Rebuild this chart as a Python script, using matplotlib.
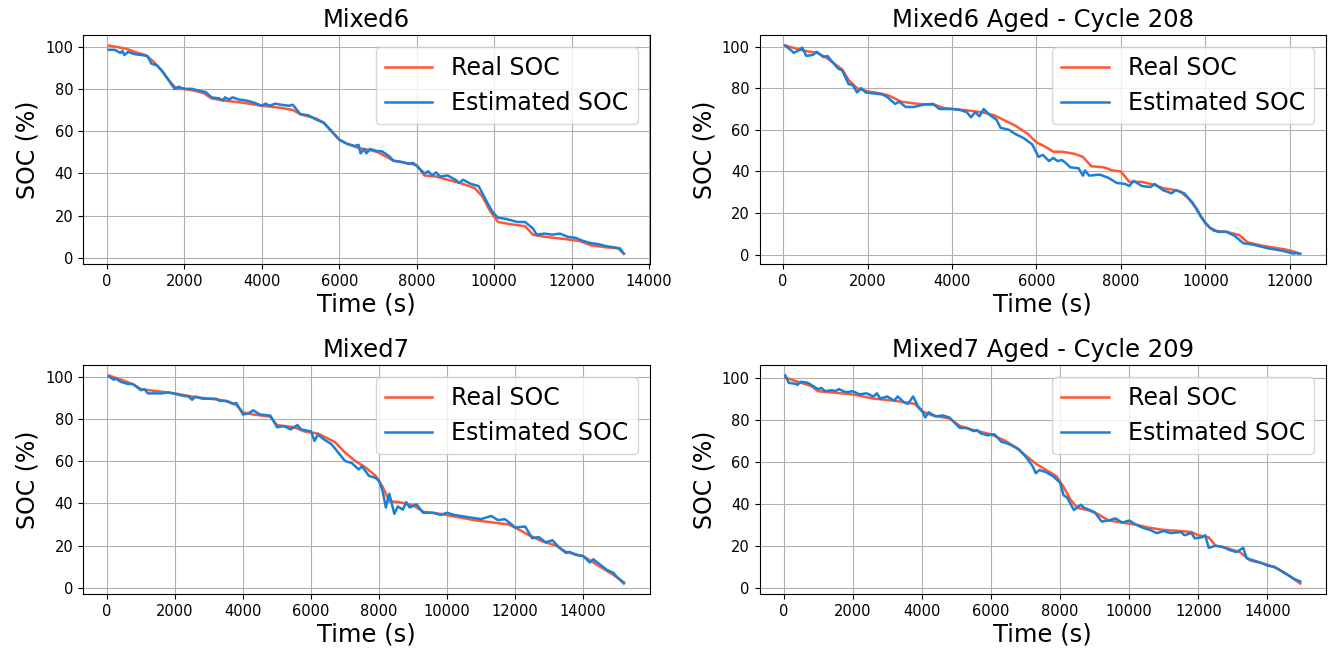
import matplotlib
matplotlib.use("Agg")
import matplotlib.pyplot as plt

# ---------------- Mixed6 ----------------
m6_real_t = [50, 500, 800, 1000, 1200, 1400, 1600, 1800, 2000, 2300, 2500, 2700, 3000, 3500, 4000,
             4500, 4800, 5000, 5400, 5600, 5800, 6000, 6200, 6500, 6800, 7000, 7200, 7400, 7700,
             8000, 8200, 8500, 8800, 9200, 9500, 9700, 9900, 10100, 10400, 10800, 11000, 11300,
             11800, 12200, 12500, 12900, 13200, 13350]
m6_real = [100.5, 99, 97, 96, 93, 89, 84, 80, 80, 79, 78, 75.5, 74.5, 73.5, 72,
           71, 70, 68, 66, 64, 60, 56, 54, 52, 51, 50, 48, 46, 45,
           44, 39, 38.5, 37, 35, 33, 29, 22, 17, 16, 15, 11, 10,
           9, 8, 6, 5, 4.5, 2]
m6_est_t = [50, 200, 350, 400, 450, 550, 700, 900, 1050, 1150, 1300, 1450, 1600, 1750, 1850, 2000,
            2200, 2400, 2550, 2700, 2900, 3000, 3050, 3150, 3250, 3400, 3600, 3800, 4000, 4100,
            4200, 4350, 4500, 4700, 4800, 5000, 5200, 5400, 5600, 5800, 6000, 6200, 6400, 6500,
            6550, 6650, 6700, 6800, 7000, 7100, 7300, 7400, 7600, 7800, 7900, 8000, 8200, 8300,
            8400, 8500, 8600, 8800, 9000, 9100, 9200, 9400, 9600, 9700, 9800, 9950, 10100, 10300,
            10500, 10600, 10800, 11000, 11100, 11300, 11500, 11700, 11900, 12100, 12300, 12500,
            12700, 12900, 13100, 13250, 13350]
m6_est = [98.5, 98.5, 97, 98, 96, 97.5, 96.5, 96, 95.5, 92, 91, 88, 84, 80, 81, 80,
          80, 79, 78.5, 76, 75.5, 74.5, 76, 75, 76, 75, 74.5, 73.5, 72, 73,
          72, 73, 72.5, 72, 72.5, 68, 67.5, 65.5, 64, 60, 56, 54, 53, 53.5,
          49.5, 51.5, 49.5, 51.5, 50.5, 50.5, 48, 46, 45.5, 44.5, 45, 43.5, 40, 41,
          39, 40.5, 38.5, 39, 37, 35.5, 37, 35, 34, 30.5, 27, 22, 19, 18.5,
          17.5, 17, 17, 14, 11, 11.5, 11, 11.5, 10, 9.5, 8, 7,
          6.5, 5.5, 5, 4.5, 2]

# ---------------- Mixed6 Aged - Cycle 208 ----------------
m6a_real_t = [50, 500, 800, 1000, 1200, 1400, 1550, 1750, 2000, 2300, 2500, 2800, 3200, 3600, 3800,
              4300, 4700, 5000, 5300, 5500, 5800, 6000, 6200, 6400, 6600, 6900, 7100, 7300, 7600,
              7800, 8000, 8200, 8500, 8800, 9000, 9300, 9400, 9600, 9800, 10000, 10200, 10500,
              10800, 11000, 11300, 11600, 11900, 12100, 12200]
m6a_real = [100.5, 98, 97, 95, 92, 89, 84, 80, 78.5, 77.5, 76.5, 73.5, 72.5, 72, 70.5,
            69.5, 68.5, 67, 64, 62, 58, 54, 52, 49.5, 49.5, 48.5, 47, 42.5, 42,
            40.5, 40, 35, 35, 33.5, 32, 31, 30.5, 27, 22, 15, 11.5, 11,
            9.5, 6, 4.5, 3.5, 2.5, 1.5, 0.5]
m6a_est_t = [50, 200, 250, 400, 450, 550, 700, 800, 950, 1050, 1150, 1300, 1400, 1550, 1650, 1750,
             1850, 1950, 2150, 2350, 2450, 2650, 2750, 2900, 3100, 3300, 3550, 3700, 4000, 4200,
             4350, 4450, 4550, 4650, 4750, 4900, 5050, 5150, 5350, 5500, 5700, 5900, 6050, 6150,
             6300, 6400, 6500, 6600, 6700, 6800, 7000, 7100, 7150, 7250, 7500, 7700, 7900, 8100,
             8200, 8300, 8500, 8700, 8800, 9000, 9200, 9300, 9500, 9700, 9900, 10100, 10300,
             10500, 10700, 10900, 11100, 11300, 11500, 11800, 12000, 12100, 12150, 12250]
m6a_est = [100.5, 98, 97, 98.5, 99.5, 95.5, 96, 97.5, 95, 95.5, 93, 89.5, 88.5, 82, 81.5, 78,
           80, 78, 77.5, 77, 76, 72.5, 73.5, 71, 71, 72, 72.5, 70, 70, 69.5,
           68.5, 66, 68.5, 66.5, 70, 67, 65, 61, 60, 58, 56, 53, 47, 48,
           45, 46.5, 45, 45.5, 44, 42, 41.5, 38, 40.5, 38, 38.5, 37, 34.5, 34,
           33, 35.5, 33, 32.5, 34, 31, 29.5, 31, 29.5, 25, 18, 13, 11,
           11, 9, 5.5, 5, 4, 3, 2, 1, 0.5, 1, 0.5]

# ---------------- Mixed7 ----------------
m7_real_t = [50, 500, 800, 1000, 1500, 2000, 2500, 3000, 3300, 3600, 3800, 4000, 4300, 4800, 5000,
             5500, 5800, 6200, 6700, 7000, 7300, 7600, 7900, 8100, 8300, 8600, 9000, 9300, 9800,
             10300, 10800, 11300, 11800, 12000, 12400, 12800, 13200, 13500, 14000, 14300, 14700,
             15000, 15200]
m7_real = [100.5, 98, 96, 94, 93, 92, 90.5, 89.5, 89, 88, 86.5, 83, 82, 81, 77,
           76, 74, 73, 69, 64, 60, 57, 53, 48, 41, 40.5, 39, 36, 35,
           33.5, 32, 31, 30, 28.5, 25, 22, 20, 17, 15, 12, 8,
           5, 2]
m7_est_t = [50, 200, 250, 400, 600, 750, 1000, 1100, 1200, 1600, 1800, 2200, 2400, 2500, 2600, 2800,
            3200, 3300, 3500, 3700, 3800, 4000, 4150, 4300, 4500, 4800, 5000, 5200, 5400, 5600,
            5700, 6000, 6100, 6200, 6400, 6600, 6800, 7000, 7200, 7400, 7500, 7700, 7900, 8000,
            8100, 8200, 8300, 8450, 8550, 8700, 8800, 8900, 9100, 9300, 9600, 9800, 10000, 10200,
            10400, 10800, 11000, 11300, 11500, 11700, 11900, 12000, 12300, 12500, 12700, 12900,
            13100, 13300, 13500, 13600, 13800, 14000, 14200, 14300, 14500, 14700, 14900, 15000,
            15200]
m7_est = [100, 98.5, 99, 97.5, 96.5, 96.5, 93.5, 94, 92, 92, 92.5, 91, 90.5, 89, 90.5, 89.5,
          89.5, 88.5, 88.5, 87, 87.5, 82, 82.5, 84, 82, 81.5, 76, 76.5, 75, 77,
          75, 74, 69.5, 72.5, 70, 68, 64, 60, 59, 56, 57.5, 53, 52, 50.5,
          46, 38, 44.5, 35, 38.5, 37, 40.5, 38, 39.5, 35.5, 35.5, 34.5, 35.5, 34.5,
          34, 33, 32.5, 34, 32, 32.5, 30, 28.5, 29, 23.5, 24, 21.5,
          22.5, 19, 16.5, 17, 15.5, 15, 12, 13.5, 11, 8.5, 7, 5,
          2.5]

# ---------------- Mixed7 Aged - Cycle 209 ----------------
m7a_real_t = [50, 500, 800, 1000, 2000, 2600, 3200, 3600, 3800, 4000, 4300, 4800, 5100, 5500, 6000,
              6400, 6700, 7000, 7300, 7600, 7900, 8100, 8300, 8500, 8800, 9100, 9400, 9800, 10200,
              10600, 11000, 11500, 11800, 12000, 12300, 12500, 12800, 13200, 13500, 14000, 14300,
              14600, 14950]
m7a_real = [100, 97.5, 96, 93.5, 92, 90, 89, 88, 87.5, 84, 82, 80.5, 77, 75, 73,
            70, 67, 63, 59, 56, 53, 48, 42, 38, 37, 35, 32, 31, 30,
            28.5, 27.5, 27, 26.5, 25, 24, 20, 19, 17, 13, 11, 9,
            6, 2]
m7a_est_t = [50, 150, 350, 400, 500, 700, 800, 1000, 1100, 1200, 1400, 1500, 1600, 1800, 2000, 2200,
             2400, 2600, 2700, 2800, 3000, 3200, 3300, 3500, 3600, 3750, 3900, 4000, 4100, 4200,
             4400, 4600, 4800, 5100, 5300, 5500, 5600, 5700, 5900, 6100, 6300, 6500, 6800, 7000,
             7200, 7300, 7400, 7600, 7800, 8000, 8100, 8200, 8400, 8600, 8700, 9000, 9200, 9400,
             9600, 9800, 10000, 10200, 10400, 10600, 10800, 11000, 11200, 11500, 11600, 11800,
             11900, 12100, 12200, 12300, 12500, 12700, 12900, 13100, 13300, 13400, 13600, 13800,
             14000, 14200, 14400, 14600, 14800, 14950]
m7a_est = [101, 97.5, 97, 96.5, 98, 97.5, 96.5, 94.5, 95, 93.5, 94, 93.5, 94.5, 93, 93.5, 92,
           92.5, 91, 92.5, 90, 91, 89, 91, 88, 87.5, 91, 86, 84.5, 81, 83.5,
           81.5, 82, 81, 76, 76, 74.5, 75, 73.5, 72.5, 73, 69.5, 68.5, 66, 62.5,
           58, 54.5, 56, 55, 53, 50, 44, 43, 37, 39.5, 38, 36, 31.5, 32,
           33, 31, 32, 30, 28.5, 27.5, 26, 27, 26, 26.5, 25, 26,
           23.5, 24, 25, 19, 20, 19.5, 18, 17, 19, 14, 13, 12,
           10.5, 10, 8, 6, 4, 3]

titles = ["Mixed6", "Mixed6 Aged - Cycle 208", "Mixed7", "Mixed7 Aged - Cycle 209"]
panels = [
    (m6_real_t, m6_real, m6_est_t, m6_est),
    (m6a_real_t, m6a_real, m6a_est_t, m6a_est),
    (m7_real_t, m7_real, m7_est_t, m7_est),
    (m7a_real_t, m7a_real, m7a_est_t, m7a_est),
]

REAL_COLOR = "#FF5733"
EST_COLOR = "#1A7FD6"

fig, axes = plt.subplots(2, 2, figsize=(13.35, 6.51), dpi=100)
fig.subplots_adjust(left=0.0622, right=0.9933, top=0.946, bottom=0.0876,
                    wspace=0.194, hspace=0.441)

for ax, title, (rt, rv, et, ev) in zip(axes.flat, titles, panels):
    ax.plot(rt, rv, color=REAL_COLOR, lw=1.8, label="Real SOC")
    ax.plot(et, ev, color=EST_COLOR, lw=1.8, label="Estimated SOC")
    ax.set_title(title, fontsize=17.5)
    ax.set_xlabel("Time (s)", fontsize=17.5, labelpad=3)
    ax.set_ylabel("SOC (%)", fontsize=17)
    ax.set_yticks([0, 20, 40, 60, 80, 100])
    ax.tick_params(labelsize=10.5)
    ax.grid(True)
    ax.legend(loc="upper right", fontsize=17, labelspacing=0.45)

fig.savefig("out.png", dpi=100)
